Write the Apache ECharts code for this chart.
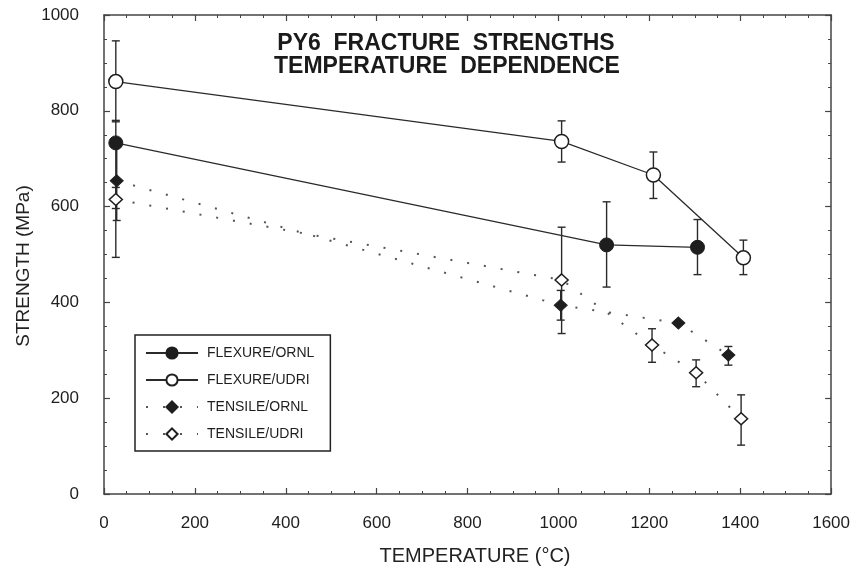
<!DOCTYPE html>
<html>
<head>
<meta charset="utf-8">
<script src="https://cdn.jsdelivr.net/npm/echarts@6/dist/echarts.min.js"></script>
<style>
  html, body { margin: 0; padding: 0; background: #fff; }
  #chart { width: 853px; height: 567px; }
</style>
</head>
<body>
<div id="chart"></div>
<script>
// temperatures (°C) and strengths (MPa)
var flexOrnlTemp = [26, 1106, 1306];
var flexOrnlVal = [733, 520, 515];
var flexOrnlErr = [[494, 780], [432, 610], [458, 573]];

var flexUdriTemp = [26, 1007, 1209, 1407];
var flexUdriVal = [861, 736, 666, 493];
var flexUdriErr = [[777, 946], [693, 779], [617, 714], [458, 530]];

var tensOrnlTemp = [28, 1005, 1264, 1374];
var tensOrnlVal = [654, 394, 357, 290];
var tensOrnlErr = [[571, 735], [363, 425], null, [269, 308]];

var tensUdriTemp = [26, 1007, 1206, 1303, 1402];
var tensUdriVal = [615, 447, 311, 253, 157];
var tensUdriErr = [[596, 640], [335, 557], [275, 345], [224, 280], [102, 207]];

var xTicks = [0, 1600, 200];
var yTicks = [0, 1000, 200];

var INK = '#2a2a2a';

function pts(t, v) {
  return t.map(function (x, i) { return [x, v[i]]; });
}
function errs(t, e) {
  var out = [];
  t.forEach(function (x, i) { if (e[i]) out.push([x, e[i][0], e[i][1]]); });
  return out;
}

function errorBars(name, data) {
  return {
    name: name,
    type: 'custom',
    z: 1,
    silent: true,
    renderItem: function (params, api) {
      var lo = api.coord([api.value(0), api.value(1)]);
      var hi = api.coord([api.value(0), api.value(2)]);
      var w = 4;
      var style = { stroke: INK, lineWidth: 1.4 };
      return {
        type: 'group',
        children: [
          { type: 'line', shape: { x1: lo[0], y1: lo[1], x2: hi[0], y2: hi[1] }, style: style },
          { type: 'line', shape: { x1: lo[0] - w, y1: lo[1], x2: lo[0] + w, y2: lo[1] }, style: style },
          { type: 'line', shape: { x1: hi[0] - w, y1: hi[1], x2: hi[0] + w, y2: hi[1] }, style: style }
        ]
      };
    },
    encode: { x: 0, y: [1, 2] },
    data: data
  };
}

function axis(pos, show) {
  var vert = pos === 'left' || pos === 'right';
  var t = vert ? yTicks : xTicks;
  return {
    type: 'value',
    position: pos,
    min: t[0],
    max: t[1],
    interval: t[2],
    axisLine: { show: true, onZero: false, lineStyle: { color: '#444', width: 1.5 } },
    axisTick: { show: true, inside: true, length: 6, lineStyle: { color: '#444', width: 1.2 } },
    minorTick: { show: true, splitNumber: 4, length: 3, lineStyle: { color: '#444', width: 1 } },
    splitLine: { show: false },
    axisLabel: {
      show: show,
      color: '#1e1e1e',
      fontFamily: 'Liberation Sans',
      fontSize: 17,
      margin: pos === 'bottom' ? 21 : 25,
      formatter: function (v) { return String(v); }
    }
  };
}

var chart = echarts.init(document.getElementById('chart'), null, { renderer: 'canvas' });

var option = {
  backgroundColor: '#fff',
  animation: false,
  grid: { left: 104, right: 21, top: 15, bottom: 73 },
  xAxis: [axis('bottom', true), axis('top', false)],
  yAxis: [axis('left', true), axis('right', false)],
  legend: {
    orient: 'vertical',
    left: 135,
    top: 335,
    padding: [11, 16, 10, 10],
    itemGap: 13,
    itemWidth: 52,
    itemHeight: 14,
    borderColor: '#222',
    borderWidth: 1.5,
    textStyle: { color: '#1e1e1e', fontFamily: 'Liberation Sans', fontSize: 14, padding: [0, 0, 0, 4] },
    data: ['FLEXURE/ORNL', 'FLEXURE/UDRI', 'TENSILE/ORNL', 'TENSILE/UDRI']
  },
  graphic: [
    {
      type: 'text', x: 446, y: 44,
      style: { text: 'PY6  FRACTURE  STRENGTHS', align: 'center', verticalAlign: 'middle',
        font: 'bold 23px "Liberation Sans"', fill: '#1a1a1a' }
    },
    {
      type: 'text', x: 447, y: 67,
      style: { text: 'TEMPERATURE  DEPENDENCE', align: 'center', verticalAlign: 'middle',
        font: 'bold 23px "Liberation Sans"', fill: '#1a1a1a' }
    },
    {
      type: 'text', x: 475, y: 556,
      style: { text: 'TEMPERATURE (°C)', align: 'center', verticalAlign: 'middle',
        font: '20px "Liberation Sans"', fill: '#222' }
    },
    {
      type: 'text', x: 24, y: 266, rotation: Math.PI / 2,
      style: { text: 'STRENGTH (MPa)', align: 'center', verticalAlign: 'middle',
        font: '19px "Liberation Sans"', fill: '#222' }
    }
  ],
  series: [
    errorBars('err-flex-ornl', errs(flexOrnlTemp, flexOrnlErr)),
    errorBars('err-flex-udri', errs(flexUdriTemp, flexUdriErr)),
    errorBars('err-tens-ornl', errs(tensOrnlTemp, tensOrnlErr)),
    errorBars('err-tens-udri', errs(tensUdriTemp, tensUdriErr)),
    {
      name: 'FLEXURE/ORNL',
      type: 'line',
      z: 3,
      data: pts(flexOrnlTemp, flexOrnlVal),
      symbol: 'circle',
      symbolSize: 14,
      lineStyle: { color: INK, width: 1.3 },
      itemStyle: { color: '#1e1e1e', borderColor: '#1e1e1e', borderWidth: 1 }
    },
    {
      name: 'FLEXURE/UDRI',
      type: 'line',
      z: 3,
      data: pts(flexUdriTemp, flexUdriVal),
      symbol: 'circle',
      symbolSize: 14,
      lineStyle: { color: INK, width: 1.3 },
      itemStyle: { color: '#fff', borderColor: '#1e1e1e', borderWidth: 1.5 }
    },
    {
      name: 'TENSILE/ORNL',
      type: 'line',
      z: 3,
      data: pts(tensOrnlTemp, tensOrnlVal),
      symbol: 'diamond',
      symbolSize: [13, 12],
      lineStyle: { color: '#555', width: 2, type: [2, 15] },
      itemStyle: { color: '#1e1e1e', borderColor: '#1e1e1e', borderWidth: 1 }
    },
    {
      name: 'TENSILE/UDRI',
      type: 'line',
      z: 3,
      data: pts(tensUdriTemp, tensUdriVal),
      symbol: 'diamond',
      symbolSize: [13, 12],
      lineStyle: { color: '#555', width: 2, type: [2, 15] },
      itemStyle: { color: '#fff', borderColor: '#1e1e1e', borderWidth: 1.5 }
    }
  ]
};

chart.setOption(option);
</script>
</body>
</html>
